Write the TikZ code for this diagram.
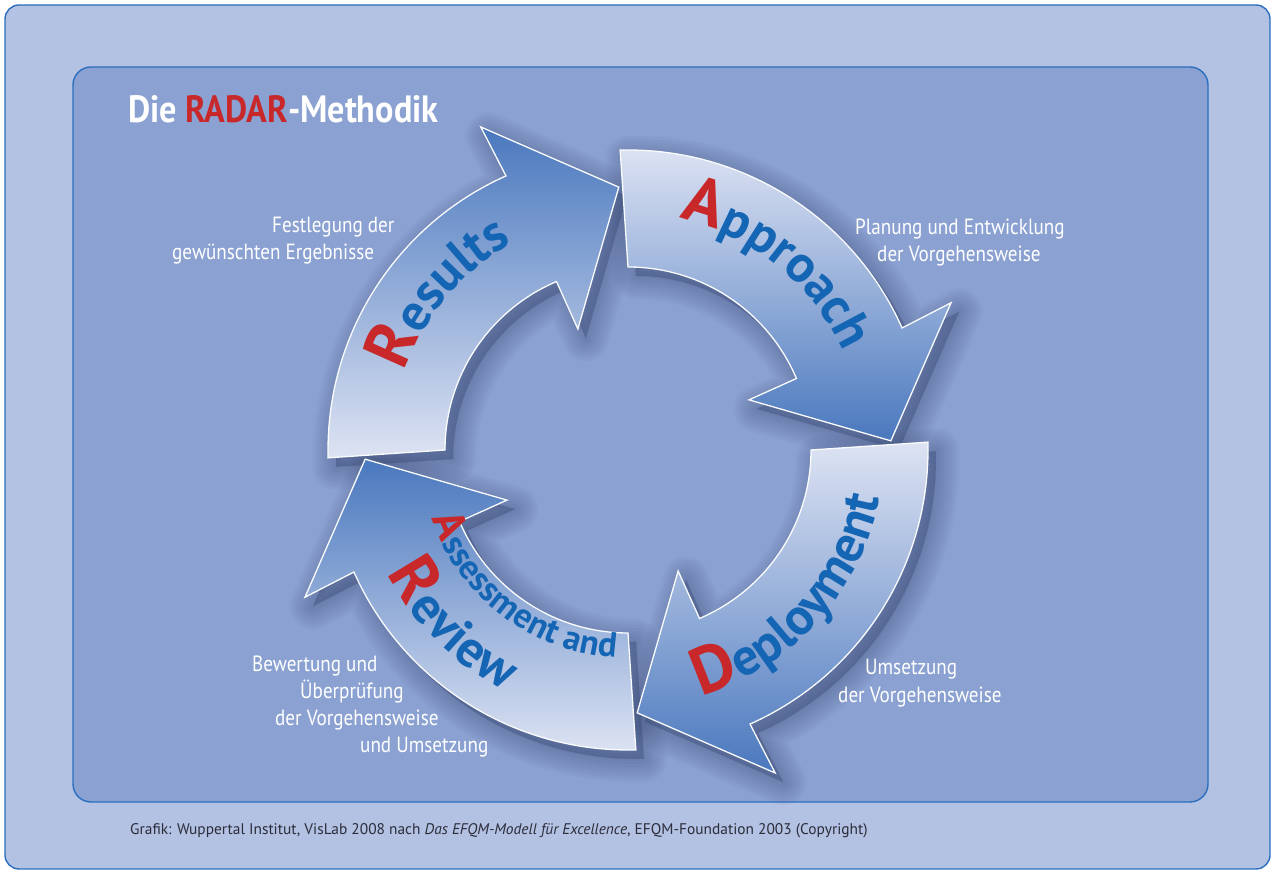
\documentclass[tikz,border=0pt]{standalone}
\usepackage{fontspec}
\setmainfont{PT Sans}
\newfontfamily\narrowfont[FakeStretch=0.87]{PT Sans}
\newfontfamily\titlefont[FakeStretch=0.9]{PT Sans}
\newfontfamily\wordfont{PT Sans Bold}
\usetikzlibrary{decorations.text}

\definecolor{pageblue}{HTML}{B3C1E2}
\definecolor{panelblue}{HTML}{8AA1D1}
\definecolor{rimblue}{HTML}{2A6FBF}
\definecolor{arrowlight}{HTML}{DDE3F3}
\definecolor{arrowdark}{HTML}{4A78BE}
\definecolor{wordblue}{HTML}{1565B5}
\definecolor{radarred}{HTML}{C8282A}
\definecolor{shadowblue}{HTML}{2E3C66}
\definecolor{creditgrey}{HTML}{2B2D3A}

% letter styles for the curved arrow captions
\newcommand{\bigred}{\wordfont\fontsize{66}{66}\selectfont\color{radarred}}
\newcommand{\bigblue}{\wordfont\fontsize{52}{52}\selectfont\color{wordblue}}
\newcommand{\smallred}{\wordfont\fontsize{44}{44}\selectfont\color{radarred}}
\newcommand{\smallblue}{\wordfont\fontsize{35}{35}\selectfont\color{wordblue}}

\begin{document}
\begin{tikzpicture}[x=1pt,y=1pt,
    note/.style={anchor=base west,inner sep=0pt,text=white,
      font=\narrowfont\fontsize{22}{26}\selectfont},
    arrowshape/.style={insert path={(1.5:300) arc[start angle=1.5,end angle=-66,radius=300]
      -- (-65.5:355) -- (-88:263) -- (-67.5:131) -- (-67:183)
      arc[start angle=-67,end angle=0,radius=183] -- cycle}},
    curved/.style={decorate,decoration={text along path,text align=center,text={#1}}}]

  \useasboundingbox (0,0) rectangle (1272,872);

  % Background panels
  \path[fill=pageblue,draw=rimblue,line width=1.4,rounded corners=14] (5,3) rectangle (1270,867);
  \path[fill=panelblue,draw=rimblue,line width=1.4,rounded corners=18] (73,70) rectangle (1208,805);

  \node[anchor=base west,inner sep=0pt,text=white,
    font=\titlefont\bfseries\fontsize{38}{38}\selectfont] (title) at (128,749)
    {Die \textcolor{radarred}{RADAR}-Methodik};

  % Soft shadows
  \foreach \rot in {0,90,180,270}
    \foreach \w in {46,40,...,4}
      \path[shift={(636,413)},rotate=\rot,arrowshape,draw=shadowblue,fill=shadowblue,
        line width=\w,line join=round,opacity=0.045];

  % The four arrows
  \foreach \rot/\up/\down in {0/arrowlight/arrowdark,90/arrowlight/arrowdark,
      180/arrowdark/arrowlight,270/arrowdark/arrowlight}
    \path[shift={(628,422)},rotate=\rot,arrowshape,top color=\up,bottom color=\down,
      draw=white!85!arrowlight,line width=1.3];

  % Arrow captions
  \begin{scope}[shift={(628,422)}]
    \path[curved={|\bigred|R|\bigblue|esults}]
      (187:237) arc[start angle=187,end angle=93,radius=237];
    \path[curved={|\bigred|A|\bigblue|pproach}]
      (97:237) arc[start angle=97,end angle=5,radius=237];
    \path[curved={|\bigred|D|\bigblue|eployment}]
      (-94:256) arc[start angle=-94,end angle=10,radius=256];
    \path[curved={|\smallred|A|\smallblue|ssessment and}]
      (-186:208) arc[start angle=-186,end angle=-68,radius=208];
    \path[curved={|\bigred|R|\bigblue|eview}]
      (-184:270) arc[start angle=-184,end angle=-86,radius=270];
  \end{scope}

  % Explanations
  \node[note] (fest1) at (272,639) {Festlegung der};
  \node[note] (fest2) at (172,612) {gewünschten Ergebnisse};
  \node[note] (plan1) at (855,637) {Planung und Entwicklung};
  \node[note] (plan2) at (877,610) {der Vorgehensweise};
  \node[note] (ums1) at (865,197) {Umsetzung};
  \node[note] (ums2) at (838,169) {der Vorgehensweise};
  \node[note] (bew1) at (252,200) {Bewertung und};
  \node[note] (bew2) at (300,173) {Überprüfung};
  \node[note] (bew3) at (275,146) {der Vorgehensweise};
  \node[note] (bew4) at (360,119) {und Umsetzung};

  \node[anchor=base west,inner sep=0pt,text=creditgrey,font=\fontsize{15.4}{17}\selectfont]
    (credit) at (130,37) {Grafik: Wuppertal Institut, VisLab 2008 nach
    \textit{Das EFQM-Modell für Excellence}, EFQM-Foundation 2003 (Copyright)};

\end{tikzpicture}
\end{document}
